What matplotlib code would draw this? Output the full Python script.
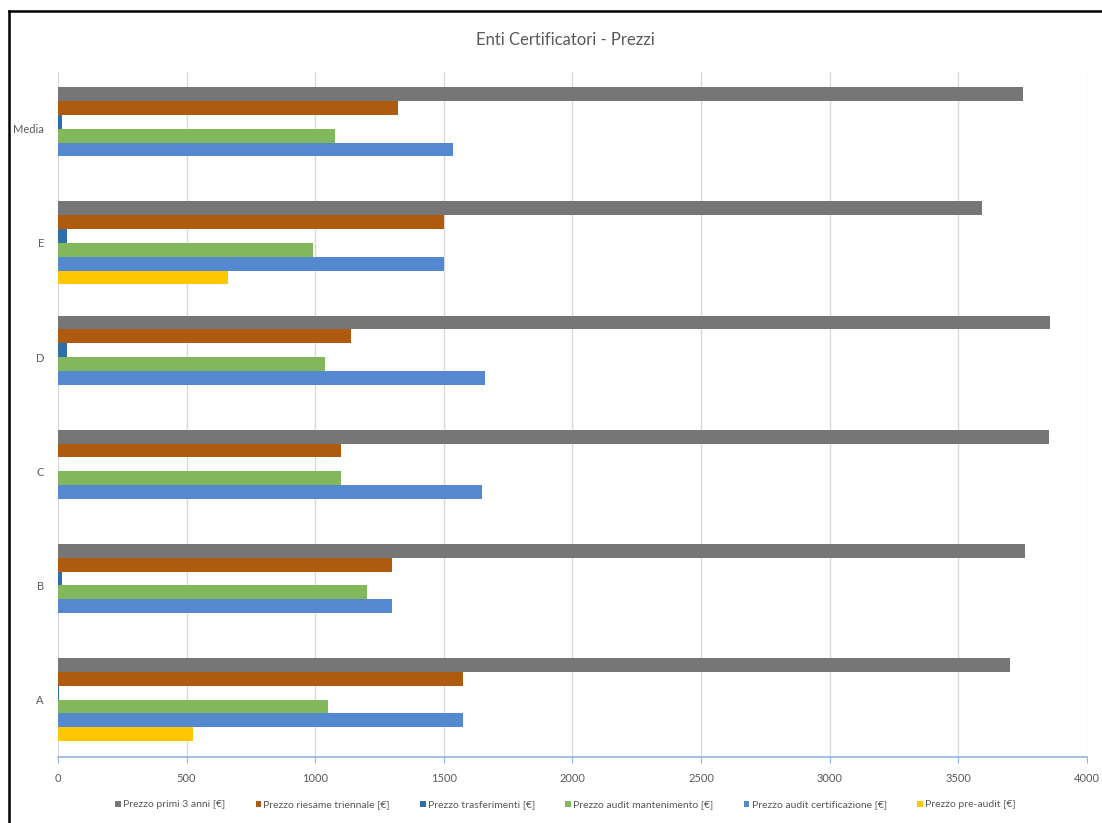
import matplotlib.pyplot as plt
import numpy as np
from matplotlib.lines import Line2D

plt.rcParams['font.family'] = ['Lato', 'DejaVu Sans']

# certification bodies (bottom to top on the chart)
enti = ['A', 'B', 'C', 'D', 'E', 'Media']

# prices in euro, one list per series
pre_audit = [525, 0, 0, 0, 660, 0]
audit_certificazione = [1575, 1300, 1650, 1660, 1500, 1537]
audit_mantenimento = [1050, 1200, 1100, 1040, 990, 1076]
trasferimenti = [5, 15, 0, 35, 35, 18]
riesame_triennale = [1575, 1300, 1100, 1140, 1500, 1323]
primi_3_anni = [3700, 3760, 3850, 3857, 3590, 3751]

# drawn bottom to top inside each group
serie = [
    ('Prezzo pre-audit [€]', pre_audit, '#FFC700'),
    ('Prezzo audit certificazione [€]', audit_certificazione, '#5589CF'),
    ('Prezzo audit mantenimento [€]', audit_mantenimento, '#82B85B'),
    ('Prezzo trasferimenti [€]', trasferimenti, '#2E6FA8'),
    ('Prezzo riesame triennale [€]', riesame_triennale, '#AE5A0F'),
    ('Prezzo primi 3 anni [€]', primi_3_anni, '#767676'),
]

fig = plt.figure(figsize=(11.02, 8.23), dpi=100)
ax = fig.add_axes([0.0525, 0.0805, 0.934, 0.8325])

y = np.arange(len(enti))
h = 0.121
barre = []
for i, (nome, valori, colore) in enumerate(serie):
    pos = y + (i - 2.5) * h
    b = ax.barh(pos, valori, height=h, color=colore, linewidth=0,
                label=nome, zorder=3)
    barre.append(b)

ax.set_xlim(0, 4000)
ax.set_ylim(-0.5, len(enti) - 0.5)
ax.set_xticks(np.arange(0, 4001, 500))
ax.set_yticks(y)
ax.set_yticklabels(enti)
ax.grid(axis='x', color='#D9D9D9', linewidth=1, zorder=0)
ax.tick_params(axis='y', length=0, labelsize=8, labelcolor='#595959', pad=10)
ax.tick_params(axis='x', length=4, color='#8EB4E3', labelsize=8,
               labelcolor='#595959', pad=8, direction='out')
for s in ['top', 'right', 'left']:
    ax.spines[s].set_visible(False)
ax.spines['bottom'].set_color('#8EB4E3')
ax.spines['bottom'].set_linewidth(1.2)

fig.text(0.513, 0.952, 'Enti Certificatori - Prezzi', ha='center', va='center',
         fontsize=12, color='#595959')

# legend: top series first, in one row
handles = barre[::-1]
labels = [s[0] for s in serie][::-1]
fig.legend(handles, labels, loc='center', bbox_to_anchor=(0.513, 0.022), ncol=6,
           frameon=False, fontsize=7.5, handlelength=0.55, handleheight=0.55,
           handletextpad=0.2, columnspacing=2.9, labelcolor='#595959')

# outer frame
fig.add_artist(Line2D([8.5 / 1102, 8.5 / 1102], [0, 1 - 11 / 823],
                      transform=fig.transFigure, color='black', linewidth=1.8))
fig.add_artist(Line2D([8.5 / 1102, 1], [1 - 11 / 823, 1 - 11 / 823],
                      transform=fig.transFigure, color='black', linewidth=1.8))

fig.savefig('out.png', dpi=100)
